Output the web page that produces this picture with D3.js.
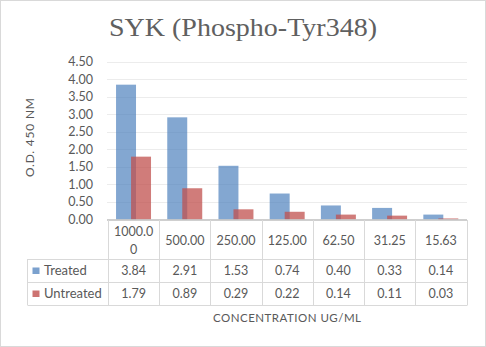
<!DOCTYPE html>
<html><head><meta charset="utf-8">
<script src="https://cdn.jsdelivr.net/npm/d3@7"></script>
<style>body{margin:0;background:#fff}svg{display:block}text{font-family:Lato,"Open Sans",sans-serif;fill:#595959}</style>
</head><body>
<svg id="c" width="486" height="347"></svg>
<script>
const categories = ["1000.00","500.00","250.00","125.00","62.50","31.25","15.63"];
const seriesNames = ["Treated","Untreated"];
const treated = [3.84,2.91,1.53,0.74,0.40,0.33,0.14];
const untreated = [1.79,0.89,0.29,0.22,0.14,0.11,0.03];
const yTicks = [0,0.5,1,1.5,2,2.5,3,3.5,4,4.5];
const titleText = "SYK (Phospho-Tyr348)";
const xTitle = "CONCENTRATION  UG/ML";
const yTitle = "O.D. 450 NM";

const series = [treated, untreated];
const colors = ["#4F81BD","#C0504D"];
const opac = [0.7,0.75];
const fmt = d3.format(".2f");

const svg = d3.select("#c");
svg.append("rect").attr("x",0.5).attr("y",0.5).attr("width",485).attr("height",346)
  .attr("fill","#fff").attr("stroke","#d9d9d9");

const x = d3.scaleBand().domain(categories).range([108,466.5]).paddingInner(0).paddingOuter(0);
const y = d3.scaleLinear().domain([0,4.5]).range([219.5,61.5]);
const bw = x.bandwidth();
const sub = d3.scaleLinear().domain([0,1]).range([bw*0.157, bw*0.45]);
const barW = bw*0.39;

// title
svg.append("text").attr("x",243).attr("y",36).attr("text-anchor","middle")
  .style("font-family","'Liberation Serif','DejaVu Serif',serif").style("font-size","26px")
  .style("fill","#606060")
  .attr("textLength",268).attr("lengthAdjust","spacingAndGlyphs").text(titleText);

// gridlines
svg.append("g").selectAll("line").data(yTicks.filter(d=>d>0)).join("line")
  .attr("x1",107).attr("x2",467).attr("y1",d=>Math.round(y(d))+0.5).attr("y2",d=>Math.round(y(d))+0.5)
  .attr("stroke","#ececec").attr("stroke-width",1);

// y axis
const ya = svg.append("g").attr("transform","translate(108,0)")
  .call(d3.axisLeft(y).tickValues(yTicks).tickFormat(fmt).tickSize(0).tickPadding(15));
ya.select(".domain").remove();
ya.selectAll("text").style("font-size","12.5px").style("font-family","Lato,sans-serif").attr("fill","#595959");

// bars
series.forEach((vals,si)=>{
  svg.append("g").selectAll("rect").data(vals).join("rect")
    .attr("x",(d,i)=>x(categories[i])+sub(si)).attr("width",barW)
    .attr("y",d=>y(d)).attr("height",d=>y(0)-y(d))
    .attr("fill",colors[si]).attr("fill-opacity",opac[si]);
});

// axis line
svg.append("line").attr("x1",107).attr("x2",467).attr("y1",220).attr("y2",220)
  .attr("stroke","#bfbfbf").attr("stroke-width",1.3);

// data table
const tl = "#d9d9d9";
const rowY = [220,259,282,305];
const tg = svg.append("g");
const edges = categories.map(c=>x(c)).concat([x.range()[1]]);
tg.selectAll("line.v").data(edges).join("line").attr("class","v")
  .attr("x1",d=>Math.round(d)+0.5).attr("x2",d=>Math.round(d)+0.5)
  .attr("y1",220).attr("y2",rowY[3]).attr("stroke",tl);
tg.append("line").attr("x1",27.5).attr("x2",27.5).attr("y1",rowY[1]).attr("y2",rowY[3]).attr("stroke",tl);
[rowY[1],rowY[2],rowY[3]].forEach(yy=>{
  tg.append("line").attr("x1",27.5).attr("x2",Math.round(x.range()[1])+0.5)
    .attr("y1",yy+0.5).attr("y2",yy+0.5).attr("stroke",tl);
});

const hdr = tg.selectAll("text.h").data(categories).join("text").attr("class","h")
  .attr("text-anchor","middle").style("font-size","12.5px");
hdr.each(function(d){
  const t = d3.select(this);
  const cx = x(d)+bw/2;
  t.text(d);
  const maxW = bw-8;
  if (this.getComputedTextLength() > maxW) {
    let n = d.length;
    while (n>1) { t.text(d.slice(0,n)); if (this.getComputedTextLength()<=maxW) break; n--; }
    t.text(null);
    t.append("tspan").attr("x",cx).attr("y",236).text(d.slice(0,n));
    t.append("tspan").attr("x",cx).attr("y",254).text(d.slice(n));
  } else {
    t.attr("x",cx).attr("y",244.5);
  }
});

series.forEach((vals,si)=>{
  const cy = (rowY[si+1]+rowY[si+2])/2;
  tg.append("rect").attr("x",32.5).attr("y",cy-3).attr("width",7).attr("height",6.5)
    .attr("fill",colors[si]).attr("fill-opacity",opac[si]+0.05);
  tg.append("text").attr("x",44).attr("y",cy+4.5).style("font-size","13px").text(seriesNames[si]);
  tg.selectAll(null).data(vals).join("text")
    .attr("x",(d,i)=>x(categories[i])+bw/2).attr("y",cy+4.5)
    .attr("text-anchor","middle").style("font-size","12.5px").text(fmt);
});

svg.append("text").attr("x",287).attr("y",322).attr("text-anchor","middle")
  .style("font-size","11.5px").attr("textLength",148).attr("lengthAdjust","spacing").text(xTitle);
svg.append("text").attr("transform","translate(34,137.5) rotate(-90)").attr("text-anchor","middle")
  .style("font-size","12px").attr("textLength",79).attr("lengthAdjust","spacing").text(yTitle);
</script>
</body></html>
